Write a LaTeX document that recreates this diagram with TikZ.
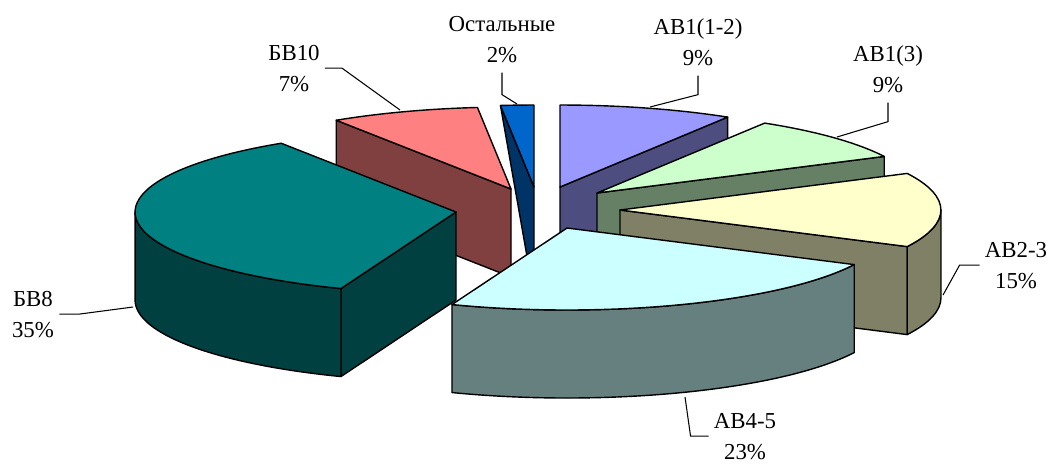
\documentclass[tikz,border=0pt]{standalone}
\usepackage{fontspec}
\setmainfont{Liberation Serif}
\usetikzlibrary{calc}

\definecolor{c12top}{HTML}{9999FF}
\definecolor{c12side}{HTML}{4D4D80}
\definecolor{c13top}{HTML}{CCFFCC}
\definecolor{c13side}{HTML}{668066}
\definecolor{c23top}{HTML}{FFFFCC}
\definecolor{c23side}{HTML}{808066}
\definecolor{c45top}{HTML}{CCFFFF}
\definecolor{c45side}{HTML}{668080}
\definecolor{c8top}{HTML}{008080}
\definecolor{c8side}{HTML}{004040}
\definecolor{c10top}{HTML}{FF8080}
\definecolor{c10side}{HTML}{804040}
\definecolor{costtop}{HTML}{0066CC}
\definecolor{costside}{HTML}{003366}

\begin{document}
\begin{tikzpicture}[x=0.02cm,y=0.02cm,x radius=6.42cm,y radius=1.64cm]
	\tikzstyle{face}=[draw=black,line width=0.8pt,line join=round]
	\tikzstyle{lbl}=[align=center,font=\fontsize{13pt}{17.6pt}\selectfont,inner xsep=0.1cm,inner ysep=0.2cm,anchor=base]
	\tikzstyle{lead}=[draw=black,line width=0.6pt]
	\useasboundingbox (0,0) rectangle (1050,-464);

	% tips of the slices
	\coordinate (ost) at (534,-187);
	\coordinate (ab12) at (560,-187);
	\coordinate (bv10) at (511,-189);
	\coordinate (ab13) at (597,-193);
	\coordinate (bv8) at (456,-212);
	\coordinate (ab23) at (620,-210);
	\coordinate (ab45) at (567,-228);

	\coordinate (ost-o) at ($(ost)+(96:6.42cm and 1.64cm)$);
	\coordinate (ab12-o) at ($(ab12)+(58.5:6.42cm and 1.64cm)$);
	\coordinate (bv10-o) at ($(bv10)+(123:6.42cm and 1.64cm)$);
	\coordinate (ab13-o) at ($(ab13)+(26.5:6.42cm and 1.64cm)$);
	\coordinate (bv8-a) at ($(bv8)+(123:6.42cm and 1.64cm)$);
	\coordinate (bv8-b) at ($(bv8)+(249:6.42cm and 1.64cm)$);
	\coordinate (bv8-l) at ($(bv8)+(180:6.42cm and 1.64cm)$);
	\coordinate (ab23-b) at ($(ab23)+(-26.5:6.42cm and 1.64cm)$);
	\coordinate (ab45-a) at ($(ab45)+(-111:6.42cm and 1.64cm)$);

	% Ostalnye
	\filldraw[face,fill=costside] (ost-o) -- (ost) -- ++(0,-80) -- (528,-262) -- cycle;
	\filldraw[face,fill=costtop] (ost) -- (ost-o) arc[start angle=96,end angle=90] -- cycle;

	% AB1(1-2)
	\filldraw[face,fill=c12side] (ab12) -- (ab12-o) -- ++(0,-88) -- ($(ab12)+(0,-88)$) -- cycle;
	\filldraw[face,fill=c12top] (ab12) -- (ab12-o) arc[start angle=58.5,end angle=90] -- cycle;

	% BV10
	\filldraw[face,fill=c10side] (bv10) -- (bv10-o) -- ++(0,-88) -- ($(bv10)+(0,-88)$) -- cycle;
	\filldraw[face,fill=c10top] (bv10) -- (bv10-o) arc[start angle=123,end angle=96] -- cycle;

	% AB1(3)
	\filldraw[face,fill=c13side] (ab13) -- (ab13-o) -- ++(0,-88) -- ($(ab13)+(0,-88)$) -- cycle;
	\filldraw[face,fill=c13top] (ab13) -- (ab13-o) arc[start angle=26.5,end angle=58.5] -- cycle;

	% BV8
	\filldraw[face,fill=c8side] (bv8) -- (bv8-b) -- ++(0,-88) -- ($(bv8)+(0,-88)$) -- cycle;
	\filldraw[face,fill=c8side] (bv8-l) arc[start angle=180,end angle=249]
		-- ++(0,-88) arc[start angle=249,end angle=180] -- cycle;
	\filldraw[face,fill=c8top] (bv8) -- (bv8-a) arc[start angle=123,end angle=249] -- cycle;

	% AB2-3
	\filldraw[face,fill=c23side] (ab23) -- (ab23-b) -- ++(0,-88) -- ($(ab23)+(0,-88)$) -- cycle;
	\filldraw[face,fill=c23side] (ab23-b) arc[start angle=-26.5,end angle=0]
		-- ++(0,-88) arc[start angle=0,end angle=-26.5] -- cycle;
	\filldraw[face,fill=c23top] (ab23) -- (ab23-b) arc[start angle=-26.5,end angle=26.5] -- cycle;

	% AB4-5
	\filldraw[face,fill=c45side] (ab45-a) arc[start angle=-111,end angle=-26.5]
		-- ++(0,-88) arc[start angle=-26.5,end angle=-111] -- cycle;
	\filldraw[face,fill=c45top] (ab45) -- (ab45-a) arc[start angle=-111,end angle=-26.5] -- cycle;

	% labels (base = last line)
	\node[lbl] (lost) at (502,-62) {Остальные\\2\%};
	\node[lbl] (lab12) at (698,-65) {АВ1(1-2)\\9\%};
	\node[lbl] (lab13) at (888,-92) {АВ1(3)\\9\%};
	\node[lbl] (lbv10) at (294,-91) {БВ10\\7\%};
	\node[lbl] (lbv8) at (33,-337) {БВ8\\35\%};
	\node[lbl] (lab23) at (1016,-288) {АВ2-3\\15\%};
	\node[lbl] (lab45) at (745,-459) {АВ4-5\\23\%};

	\coordinate (ost-p) at (517,-104);
	\coordinate (ab12-p) at (650,-107);
	\coordinate (ab13-p) at (837,-137);
	\coordinate (bv10-p) at (400,-110);
	\coordinate (bv8-p) at (133,-307);
	\coordinate (ab23-p) at (943,-295);
	\coordinate (ab45-p) at (685,-397);

	\draw[lead] (lost.south) -- ++(0,-22) -- (ost-p);
	\draw[lead] (lab12.south) -- ++(0,-19) -- (ab12-p);
	\draw[lead] (lab13.south) -- ++(0,-19) -- (ab13-p);
	\draw[lead] (lbv10.east) -- ++(17,0) -- (bv10-p);
	\draw[lead] (lbv8.east) -- ++(20,0) -- (bv8-p);
	\draw[lead] (lab23.west) -- ++(-20,0) -- (ab23-p);
	\draw[lead] (lab45.west) -- ++(-18,0) -- (ab45-p);
\end{tikzpicture}
\end{document}
